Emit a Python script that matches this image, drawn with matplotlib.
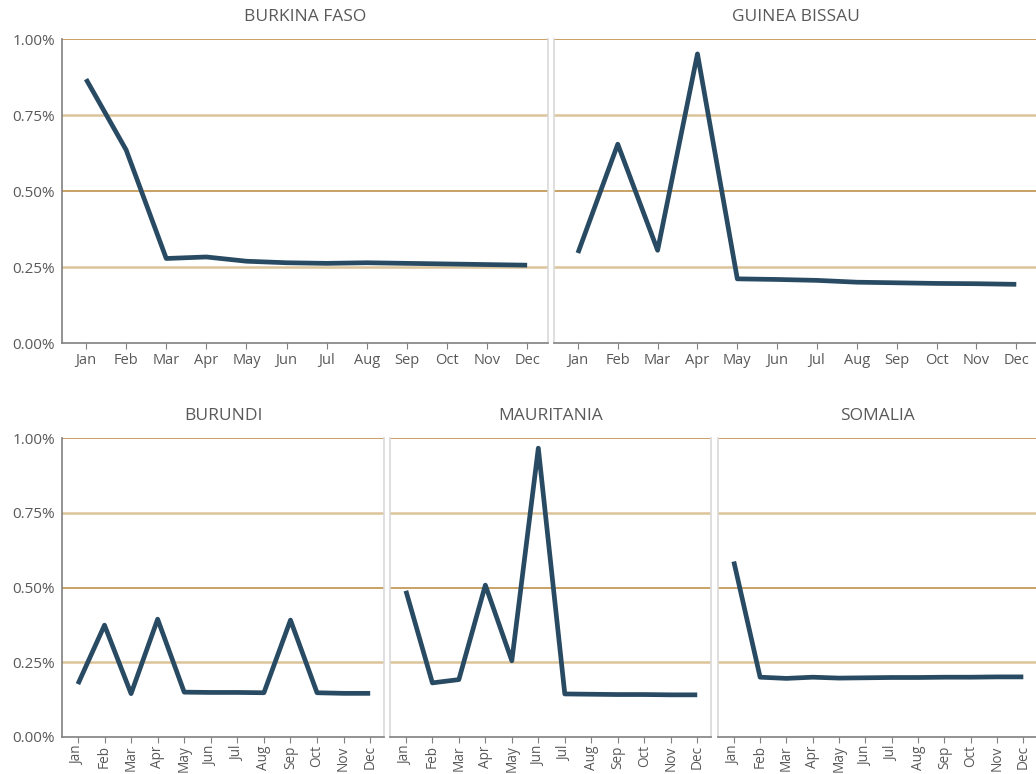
import matplotlib
matplotlib.use("Agg")
import matplotlib.pyplot as plt
from matplotlib.ticker import FuncFormatter

plt.rcParams['font.family'] = ['Open Sans', 'DejaVu Sans']

months = ["Jan", "Feb", "Mar", "Apr", "May", "Jun", "Jul", "Aug", "Sep", "Oct", "Nov", "Dec"]
yticks = [0.0, 0.25, 0.50, 0.75, 1.00]

burkina_faso = [0.868, 0.635, 0.278, 0.283, 0.269, 0.264, 0.262, 0.264, 0.262, 0.260, 0.258, 0.256]
guinea_bissau = [0.296, 0.654, 0.305, 0.951, 0.211, 0.209, 0.206, 0.200, 0.198, 0.196, 0.195, 0.193]
burundi = [0.177, 0.374, 0.145, 0.394, 0.150, 0.149, 0.149, 0.148, 0.391, 0.148, 0.146, 0.146]
mauritania = [0.489, 0.181, 0.192, 0.508, 0.255, 0.966, 0.144, 0.143, 0.142, 0.142, 0.141, 0.141]
somalia = [0.587, 0.200, 0.196, 0.200, 0.197, 0.198, 0.199, 0.199, 0.200, 0.200, 0.201, 0.201]

W, H = 1036, 774
fig = plt.figure(figsize=(W / 100, H / 100), dpi=100)

LINE = "#284B63"
TXT = "#595959"
GRID_DARK = "#B9883A"
GRID_LIGHT = "#DCC49A"
BORDER = "#D9D9D9"
SPINE = "#808080"

# (title, data, left, right, top, bottom, first_col, rotate)
panels = [
    ("BURKINA FASO", burkina_faso, 62, 548, 39, 343, True, False),
    ("GUINEA BISSAU", guinea_bissau, 554, 1037, 39, 343, False, False),
    ("BURUNDI", burundi, 62, 384, 438, 737, True, True),
    ("MAURITANIA", mauritania, 390, 711, 438, 737, False, True),
    ("SOMALIA", somalia, 718, 1037, 438, 737, False, True),
]

for title, data, l, r, t, b, first, rot in panels:
    ax = fig.add_axes([l / W, (H - b) / H, (r - l) / W, (b - t) / H])
    x = list(range(len(months)))
    for yv in yticks[1:]:
        major = abs(yv - 0.5) < 1e-9 or abs(yv - 1.0) < 1e-9
        ax.axhline(yv, color=GRID_DARK if major else GRID_LIGHT,
                   lw=1.1 if major else 1.8, zorder=1)
    ax.plot(x, data, color=LINE, lw=3.4, zorder=3, solid_capstyle='butt')
    ax.set_ylim(0, 1.0)
    ax.set_xlim(-0.6, 11.52)
    ax.set_xticks(x)
    if rot:
        ax.set_xticklabels(months, rotation=90, fontsize=9.8, color=TXT)
        ax.tick_params(axis='x', length=4, color=SPINE, pad=2)
    else:
        ax.set_xticklabels(months, fontsize=10.5, color=TXT)
        ax.tick_params(axis='x', length=4, color=SPINE, pad=3)
    ax.set_yticks(yticks)
    if first:
        ax.yaxis.set_major_formatter(FuncFormatter(lambda v, p: f"{v:.2f}%"))
        ax.tick_params(axis='y', length=0, labelsize=11, labelcolor=TXT, pad=5)
        ax.spines['left'].set_color(SPINE)
        ax.spines['left'].set_linewidth(1.2)
    else:
        ax.set_yticklabels([])
        ax.tick_params(axis='y', length=0)
        ax.spines['left'].set_color(BORDER)
        ax.spines['left'].set_linewidth(1.2)
    ax.spines['bottom'].set_color(SPINE)
    ax.spines['bottom'].set_linewidth(1.2)
    ax.spines['right'].set_color(BORDER)
    ax.spines['right'].set_linewidth(1.2)
    ax.spines['top'].set_visible(False)
    fig.text((l + r) / 2 / W, (H - (t - 22)) / H, title, ha='center', va='center',
             fontsize=12.5, color=TXT)

fig.savefig("out.png", dpi=100)
